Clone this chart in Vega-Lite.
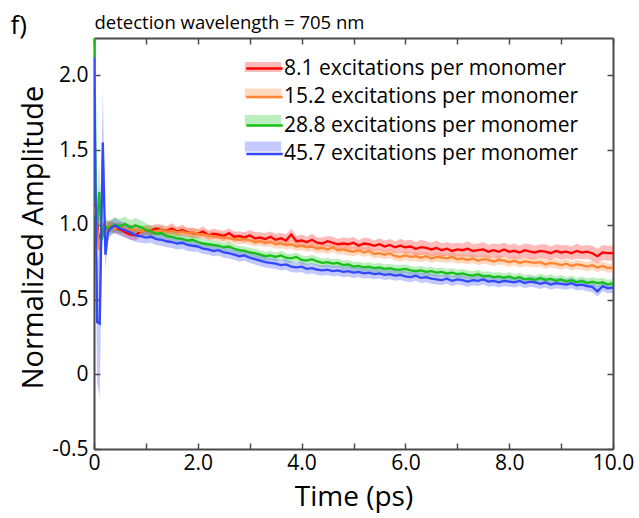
{
 "$schema": "https://vega.github.io/schema/vega-lite/v6.json",
 "width": 519,
 "height": 411,
 "autosize": {"type": "none"},
 "padding": {"left": 94, "top": 38, "right": 26, "bottom": 69},
 "background": "white",
 "config": {
  "view": {"stroke": null},
  "font": "Open Sans",
  "axis": {"domainColor": "#4a4a4a", "domainWidth": 2, "tickColor": "#4a4a4a", "tickWidth": 1.5, "tickSize": -6, "labelFont": "Open Sans", "labelFontSize": 21, "labelColor": "black", "labelFlush": false, "titleFont": "Open Sans", "titleFontSize": 28, "titleFontWeight": "normal", "titleColor": "black", "grid": false},
  "axisTop": {"titleFontSize": 18.5},
  "axisRight": {"titleFontSize": 26}
 },
 "data": {"values": [
  {"s":"a","t":0,"y":1.15,"e":0.05},{"s":"a","t":0.05,"y":1.1,"e":0.05},{"s":"a","t":0.1,"y":0.86,"e":0.06},{"s":"a","t":0.15,"y":0.97,"e":0.05},{"s":"a","t":0.2,"y":0.96,"e":0.04},{"s":"a","t":0.25,"y":0.98,"e":0.04},
  {"s":"a","t":0.3,"y":0.99,"e":0.035},{"s":"a","t":0.4,"y":0.98,"e":0.035},{"s":"a","t":0.5,"y":0.97,"e":0.035},{"s":"a","t":0.6,"y":0.95,"e":0.035},{"s":"a","t":0.7,"y":0.935,"e":0.035},{"s":"a","t":0.8,"y":0.93,"e":0.035},{"s":"a","t":0.9,"y":0.955,"e":0.035},
  {"s":"a","t":1.0,"y":0.965,"e":0.03},{"s":"a","t":1.1,"y":0.96,"e":0.035},{"s":"a","t":1.2,"y":0.975,"e":0.03},{"s":"a","t":1.3,"y":0.965,"e":0.035},{"s":"a","t":1.4,"y":0.96,"e":0.03},{"s":"a","t":1.5,"y":0.975,"e":0.035},{"s":"a","t":1.6,"y":0.955,"e":0.03},{"s":"a","t":1.7,"y":0.965,"e":0.035},{"s":"a","t":1.8,"y":0.95,"e":0.03},{"s":"a","t":1.9,"y":0.945,"e":0.035},
  {"s":"a","t":2.0,"y":0.94,"e":0.03},{"s":"a","t":2.1,"y":0.955,"e":0.035},{"s":"a","t":2.2,"y":0.93,"e":0.03},{"s":"a","t":2.3,"y":0.94,"e":0.035},{"s":"a","t":2.4,"y":0.935,"e":0.03},{"s":"a","t":2.5,"y":0.925,"e":0.035},{"s":"a","t":2.6,"y":0.945,"e":0.03},{"s":"a","t":2.7,"y":0.92,"e":0.035},{"s":"a","t":2.8,"y":0.925,"e":0.03},{"s":"a","t":2.9,"y":0.915,"e":0.035},
  {"s":"a","t":3.0,"y":0.93,"e":0.035},{"s":"a","t":3.1,"y":0.91,"e":0.04},{"s":"a","t":3.2,"y":0.915,"e":0.035},{"s":"a","t":3.3,"y":0.905,"e":0.04},{"s":"a","t":3.4,"y":0.92,"e":0.035},{"s":"a","t":3.5,"y":0.9,"e":0.04},{"s":"a","t":3.6,"y":0.91,"e":0.035},{"s":"a","t":3.7,"y":0.895,"e":0.04},{"s":"a","t":3.8,"y":0.935,"e":0.04},{"s":"a","t":3.9,"y":0.89,"e":0.035},
  {"s":"a","t":4.0,"y":0.895,"e":0.04},{"s":"a","t":4.1,"y":0.885,"e":0.035},{"s":"a","t":4.2,"y":0.9,"e":0.04},{"s":"a","t":4.3,"y":0.88,"e":0.035},{"s":"a","t":4.4,"y":0.875,"e":0.04},{"s":"a","t":4.5,"y":0.89,"e":0.035},{"s":"a","t":4.6,"y":0.88,"e":0.04},{"s":"a","t":4.7,"y":0.87,"e":0.035},{"s":"a","t":4.8,"y":0.875,"e":0.04},{"s":"a","t":4.9,"y":0.87,"e":0.04},
  {"s":"a","t":5.0,"y":0.88,"e":0.04},{"s":"a","t":5.1,"y":0.86,"e":0.035},{"s":"a","t":5.2,"y":0.875,"e":0.04},{"s":"a","t":5.3,"y":0.87,"e":0.04},{"s":"a","t":5.4,"y":0.86,"e":0.035},{"s":"a","t":5.5,"y":0.87,"e":0.04},{"s":"a","t":5.6,"y":0.855,"e":0.04},{"s":"a","t":5.7,"y":0.865,"e":0.04},{"s":"a","t":5.8,"y":0.85,"e":0.04},{"s":"a","t":5.9,"y":0.86,"e":0.045},
  {"s":"a","t":6.0,"y":0.85,"e":0.045},{"s":"a","t":6.1,"y":0.855,"e":0.045},{"s":"a","t":6.2,"y":0.84,"e":0.045},{"s":"a","t":6.3,"y":0.85,"e":0.05},{"s":"a","t":6.4,"y":0.845,"e":0.045},{"s":"a","t":6.5,"y":0.835,"e":0.045},{"s":"a","t":6.6,"y":0.845,"e":0.05},{"s":"a","t":6.7,"y":0.83,"e":0.045},{"s":"a","t":6.8,"y":0.84,"e":0.045},{"s":"a","t":6.9,"y":0.825,"e":0.05},
  {"s":"a","t":7.0,"y":0.835,"e":0.045},{"s":"a","t":7.1,"y":0.83,"e":0.045},{"s":"a","t":7.2,"y":0.84,"e":0.05},{"s":"a","t":7.3,"y":0.825,"e":0.045},{"s":"a","t":7.4,"y":0.83,"e":0.045},{"s":"a","t":7.5,"y":0.835,"e":0.05},{"s":"a","t":7.6,"y":0.82,"e":0.045},{"s":"a","t":7.7,"y":0.83,"e":0.045},{"s":"a","t":7.8,"y":0.82,"e":0.05},{"s":"a","t":7.9,"y":0.835,"e":0.045},
  {"s":"a","t":8.0,"y":0.82,"e":0.045},{"s":"a","t":8.1,"y":0.825,"e":0.05},{"s":"a","t":8.2,"y":0.815,"e":0.045},{"s":"a","t":8.3,"y":0.83,"e":0.045},{"s":"a","t":8.4,"y":0.82,"e":0.05},{"s":"a","t":8.5,"y":0.815,"e":0.045},{"s":"a","t":8.6,"y":0.825,"e":0.045},{"s":"a","t":8.7,"y":0.82,"e":0.05},{"s":"a","t":8.8,"y":0.81,"e":0.045},{"s":"a","t":8.9,"y":0.825,"e":0.045},
  {"s":"a","t":9.0,"y":0.815,"e":0.05},{"s":"a","t":9.1,"y":0.82,"e":0.045},{"s":"a","t":9.2,"y":0.81,"e":0.045},{"s":"a","t":9.3,"y":0.825,"e":0.05},{"s":"a","t":9.4,"y":0.815,"e":0.045},{"s":"a","t":9.5,"y":0.82,"e":0.045},{"s":"a","t":9.6,"y":0.81,"e":0.05},{"s":"a","t":9.7,"y":0.79,"e":0.05},{"s":"a","t":9.8,"y":0.815,"e":0.05},{"s":"a","t":9.9,"y":0.81,"e":0.05},{"s":"a","t":10.0,"y":0.81,"e":0.05},

  {"s":"b","t":0,"y":1.12,"e":0.05},{"s":"b","t":0.05,"y":1.04,"e":0.05},{"s":"b","t":0.1,"y":0.83,"e":0.05},{"s":"b","t":0.15,"y":0.95,"e":0.05},{"s":"b","t":0.2,"y":0.97,"e":0.04},{"s":"b","t":0.25,"y":0.99,"e":0.04},
  {"s":"b","t":0.3,"y":0.99,"e":0.035},{"s":"b","t":0.4,"y":0.975,"e":0.035},{"s":"b","t":0.5,"y":0.985,"e":0.035},{"s":"b","t":0.6,"y":0.97,"e":0.035},{"s":"b","t":0.7,"y":0.965,"e":0.035},{"s":"b","t":0.8,"y":0.97,"e":0.035},{"s":"b","t":0.9,"y":0.955,"e":0.035},
  {"s":"b","t":1.0,"y":0.965,"e":0.03},{"s":"b","t":1.1,"y":0.955,"e":0.03},{"s":"b","t":1.2,"y":0.96,"e":0.03},{"s":"b","t":1.3,"y":0.965,"e":0.03},{"s":"b","t":1.4,"y":0.955,"e":0.03},{"s":"b","t":1.5,"y":0.96,"e":0.03},{"s":"b","t":1.6,"y":0.95,"e":0.03},{"s":"b","t":1.7,"y":0.955,"e":0.03},{"s":"b","t":1.8,"y":0.945,"e":0.03},{"s":"b","t":1.9,"y":0.95,"e":0.03},
  {"s":"b","t":2.0,"y":0.94,"e":0.03},{"s":"b","t":2.1,"y":0.935,"e":0.03},{"s":"b","t":2.2,"y":0.93,"e":0.03},{"s":"b","t":2.3,"y":0.925,"e":0.03},{"s":"b","t":2.4,"y":0.92,"e":0.03},{"s":"b","t":2.5,"y":0.915,"e":0.03},{"s":"b","t":2.6,"y":0.91,"e":0.03},{"s":"b","t":2.7,"y":0.905,"e":0.03},{"s":"b","t":2.8,"y":0.9,"e":0.03},{"s":"b","t":2.9,"y":0.905,"e":0.03},
  {"s":"b","t":3.0,"y":0.895,"e":0.03},{"s":"b","t":3.1,"y":0.885,"e":0.03},{"s":"b","t":3.2,"y":0.89,"e":0.03},{"s":"b","t":3.3,"y":0.88,"e":0.03},{"s":"b","t":3.4,"y":0.885,"e":0.03},{"s":"b","t":3.5,"y":0.87,"e":0.03},{"s":"b","t":3.6,"y":0.875,"e":0.03},{"s":"b","t":3.7,"y":0.865,"e":0.03},{"s":"b","t":3.8,"y":0.87,"e":0.03},{"s":"b","t":3.9,"y":0.855,"e":0.03},
  {"s":"b","t":4.0,"y":0.86,"e":0.03},{"s":"b","t":4.1,"y":0.85,"e":0.03},{"s":"b","t":4.2,"y":0.855,"e":0.03},{"s":"b","t":4.3,"y":0.84,"e":0.03},{"s":"b","t":4.4,"y":0.845,"e":0.03},{"s":"b","t":4.5,"y":0.835,"e":0.03},{"s":"b","t":4.6,"y":0.85,"e":0.03},{"s":"b","t":4.7,"y":0.83,"e":0.03},{"s":"b","t":4.8,"y":0.835,"e":0.03},{"s":"b","t":4.9,"y":0.825,"e":0.03},
  {"s":"b","t":5.0,"y":0.82,"e":0.03},{"s":"b","t":5.1,"y":0.83,"e":0.03},{"s":"b","t":5.2,"y":0.815,"e":0.03},{"s":"b","t":5.3,"y":0.825,"e":0.03},{"s":"b","t":5.4,"y":0.805,"e":0.03},{"s":"b","t":5.5,"y":0.81,"e":0.03},{"s":"b","t":5.6,"y":0.8,"e":0.03},{"s":"b","t":5.7,"y":0.81,"e":0.03},{"s":"b","t":5.8,"y":0.79,"e":0.03},{"s":"b","t":5.9,"y":0.785,"e":0.03},
  {"s":"b","t":6.0,"y":0.795,"e":0.03},{"s":"b","t":6.1,"y":0.785,"e":0.03},{"s":"b","t":6.2,"y":0.79,"e":0.03},{"s":"b","t":6.3,"y":0.78,"e":0.03},{"s":"b","t":6.4,"y":0.79,"e":0.03},{"s":"b","t":6.5,"y":0.775,"e":0.03},{"s":"b","t":6.6,"y":0.785,"e":0.03},{"s":"b","t":6.7,"y":0.78,"e":0.03},{"s":"b","t":6.8,"y":0.775,"e":0.03},{"s":"b","t":6.9,"y":0.785,"e":0.03},
  {"s":"b","t":7.0,"y":0.77,"e":0.03},{"s":"b","t":7.1,"y":0.775,"e":0.03},{"s":"b","t":7.2,"y":0.765,"e":0.03},{"s":"b","t":7.3,"y":0.775,"e":0.03},{"s":"b","t":7.4,"y":0.76,"e":0.03},{"s":"b","t":7.5,"y":0.77,"e":0.03},{"s":"b","t":7.6,"y":0.765,"e":0.03},{"s":"b","t":7.7,"y":0.755,"e":0.03},{"s":"b","t":7.8,"y":0.765,"e":0.03},{"s":"b","t":7.9,"y":0.76,"e":0.03},
  {"s":"b","t":8.0,"y":0.75,"e":0.03},{"s":"b","t":8.1,"y":0.76,"e":0.03},{"s":"b","t":8.2,"y":0.745,"e":0.03},{"s":"b","t":8.3,"y":0.755,"e":0.03},{"s":"b","t":8.4,"y":0.75,"e":0.03},{"s":"b","t":8.5,"y":0.745,"e":0.03},{"s":"b","t":8.6,"y":0.75,"e":0.03},{"s":"b","t":8.7,"y":0.735,"e":0.03},{"s":"b","t":8.8,"y":0.745,"e":0.03},{"s":"b","t":8.9,"y":0.74,"e":0.03},
  {"s":"b","t":9.0,"y":0.73,"e":0.03},{"s":"b","t":9.1,"y":0.74,"e":0.03},{"s":"b","t":9.2,"y":0.725,"e":0.03},{"s":"b","t":9.3,"y":0.735,"e":0.03},{"s":"b","t":9.4,"y":0.73,"e":0.03},{"s":"b","t":9.5,"y":0.72,"e":0.03},{"s":"b","t":9.6,"y":0.73,"e":0.03},{"s":"b","t":9.7,"y":0.715,"e":0.03},{"s":"b","t":9.8,"y":0.725,"e":0.03},{"s":"b","t":9.9,"y":0.71,"e":0.03},{"s":"b","t":10.0,"y":0.715,"e":0.03},

  {"s":"c","t":0,"y":2.6,"e":0.2},{"s":"c","t":0.04,"y":0.88,"e":0.2},{"s":"c","t":0.1,"y":1.22,"e":0.2},{"s":"c","t":0.15,"y":0.9,"e":0.08},{"s":"c","t":0.2,"y":1.0,"e":0.06},{"s":"c","t":0.25,"y":0.98,"e":0.05},
  {"s":"c","t":0.3,"y":0.98,"e":0.05},{"s":"c","t":0.4,"y":1.0,"e":0.05},{"s":"c","t":0.5,"y":0.99,"e":0.05},{"s":"c","t":0.6,"y":1.005,"e":0.05},{"s":"c","t":0.7,"y":0.98,"e":0.05},{"s":"c","t":0.8,"y":0.995,"e":0.05},{"s":"c","t":0.9,"y":0.985,"e":0.045},
  {"s":"c","t":1.0,"y":0.965,"e":0.045},{"s":"c","t":1.1,"y":0.955,"e":0.04},{"s":"c","t":1.2,"y":0.94,"e":0.04},{"s":"c","t":1.3,"y":0.945,"e":0.04},{"s":"c","t":1.4,"y":0.925,"e":0.035},{"s":"c","t":1.5,"y":0.92,"e":0.035},{"s":"c","t":1.6,"y":0.91,"e":0.03},{"s":"c","t":1.7,"y":0.905,"e":0.03},{"s":"c","t":1.8,"y":0.895,"e":0.03},{"s":"c","t":1.9,"y":0.9,"e":0.03},
  {"s":"c","t":2.0,"y":0.885,"e":0.03},{"s":"c","t":2.1,"y":0.875,"e":0.03},{"s":"c","t":2.2,"y":0.87,"e":0.03},{"s":"c","t":2.3,"y":0.865,"e":0.03},{"s":"c","t":2.4,"y":0.86,"e":0.03},{"s":"c","t":2.5,"y":0.85,"e":0.03},{"s":"c","t":2.6,"y":0.855,"e":0.03},{"s":"c","t":2.7,"y":0.84,"e":0.03},{"s":"c","t":2.8,"y":0.83,"e":0.03},{"s":"c","t":2.9,"y":0.825,"e":0.03},
  {"s":"c","t":3.0,"y":0.815,"e":0.03},{"s":"c","t":3.1,"y":0.81,"e":0.03},{"s":"c","t":3.2,"y":0.8,"e":0.03},{"s":"c","t":3.3,"y":0.79,"e":0.03},{"s":"c","t":3.4,"y":0.795,"e":0.03},{"s":"c","t":3.5,"y":0.785,"e":0.03},{"s":"c","t":3.6,"y":0.795,"e":0.03},{"s":"c","t":3.7,"y":0.78,"e":0.03},{"s":"c","t":3.8,"y":0.775,"e":0.03},{"s":"c","t":3.9,"y":0.785,"e":0.03},
  {"s":"c","t":4.0,"y":0.765,"e":0.03},{"s":"c","t":4.1,"y":0.76,"e":0.03},{"s":"c","t":4.2,"y":0.77,"e":0.03},{"s":"c","t":4.3,"y":0.755,"e":0.03},{"s":"c","t":4.4,"y":0.745,"e":0.03},{"s":"c","t":4.5,"y":0.75,"e":0.03},{"s":"c","t":4.6,"y":0.74,"e":0.03},{"s":"c","t":4.7,"y":0.745,"e":0.03},{"s":"c","t":4.8,"y":0.73,"e":0.03},{"s":"c","t":4.9,"y":0.735,"e":0.03},
  {"s":"c","t":5.0,"y":0.72,"e":0.03},{"s":"c","t":5.1,"y":0.725,"e":0.03},{"s":"c","t":5.2,"y":0.715,"e":0.03},{"s":"c","t":5.3,"y":0.72,"e":0.03},{"s":"c","t":5.4,"y":0.71,"e":0.03},{"s":"c","t":5.5,"y":0.715,"e":0.03},{"s":"c","t":5.6,"y":0.705,"e":0.03},{"s":"c","t":5.7,"y":0.71,"e":0.03},{"s":"c","t":5.8,"y":0.7,"e":0.03},{"s":"c","t":5.9,"y":0.7,"e":0.03},
  {"s":"c","t":6.0,"y":0.705,"e":0.03},{"s":"c","t":6.1,"y":0.695,"e":0.03},{"s":"c","t":6.2,"y":0.69,"e":0.03},{"s":"c","t":6.3,"y":0.695,"e":0.03},{"s":"c","t":6.4,"y":0.685,"e":0.03},{"s":"c","t":6.5,"y":0.69,"e":0.03},{"s":"c","t":6.6,"y":0.68,"e":0.03},{"s":"c","t":6.7,"y":0.685,"e":0.03},{"s":"c","t":6.8,"y":0.675,"e":0.03},{"s":"c","t":6.9,"y":0.68,"e":0.03},
  {"s":"c","t":7.0,"y":0.67,"e":0.03},{"s":"c","t":7.1,"y":0.675,"e":0.03},{"s":"c","t":7.2,"y":0.665,"e":0.03},{"s":"c","t":7.3,"y":0.66,"e":0.03},{"s":"c","t":7.4,"y":0.67,"e":0.03},{"s":"c","t":7.5,"y":0.655,"e":0.03},{"s":"c","t":7.6,"y":0.66,"e":0.03},{"s":"c","t":7.7,"y":0.65,"e":0.03},{"s":"c","t":7.8,"y":0.655,"e":0.03},{"s":"c","t":7.9,"y":0.645,"e":0.03},
  {"s":"c","t":8.0,"y":0.655,"e":0.03},{"s":"c","t":8.1,"y":0.64,"e":0.03},{"s":"c","t":8.2,"y":0.65,"e":0.03},{"s":"c","t":8.3,"y":0.635,"e":0.03},{"s":"c","t":8.4,"y":0.64,"e":0.03},{"s":"c","t":8.5,"y":0.63,"e":0.03},{"s":"c","t":8.6,"y":0.645,"e":0.03},{"s":"c","t":8.7,"y":0.63,"e":0.03},{"s":"c","t":8.8,"y":0.64,"e":0.03},{"s":"c","t":8.9,"y":0.625,"e":0.03},
  {"s":"c","t":9.0,"y":0.635,"e":0.03},{"s":"c","t":9.1,"y":0.62,"e":0.03},{"s":"c","t":9.2,"y":0.63,"e":0.03},{"s":"c","t":9.3,"y":0.615,"e":0.03},{"s":"c","t":9.4,"y":0.625,"e":0.03},{"s":"c","t":9.5,"y":0.61,"e":0.03},{"s":"c","t":9.6,"y":0.62,"e":0.03},{"s":"c","t":9.7,"y":0.61,"e":0.03},{"s":"c","t":9.8,"y":0.615,"e":0.03},{"s":"c","t":9.9,"y":0.6,"e":0.03},{"s":"c","t":10.0,"y":0.61,"e":0.03},

  {"s":"d","t":0,"y":2.12,"e":0.15},{"s":"d","t":0.06,"y":0.35,"e":0.4},{"s":"d","t":0.11,"y":0.34,"e":0.5},{"s":"d","t":0.17,"y":1.55,"e":0.35},{"s":"d","t":0.22,"y":0.8,"e":0.1},{"s":"d","t":0.27,"y":0.95,"e":0.06},
  {"s":"d","t":0.3,"y":0.97,"e":0.05},{"s":"d","t":0.4,"y":0.995,"e":0.05},{"s":"d","t":0.5,"y":0.975,"e":0.05},{"s":"d","t":0.6,"y":0.965,"e":0.05},{"s":"d","t":0.7,"y":0.95,"e":0.05},{"s":"d","t":0.8,"y":0.93,"e":0.045},{"s":"d","t":0.9,"y":0.925,"e":0.045},
  {"s":"d","t":1.0,"y":0.915,"e":0.04},{"s":"d","t":1.1,"y":0.92,"e":0.04},{"s":"d","t":1.2,"y":0.905,"e":0.04},{"s":"d","t":1.3,"y":0.9,"e":0.04},{"s":"d","t":1.4,"y":0.89,"e":0.04},{"s":"d","t":1.5,"y":0.885,"e":0.04},{"s":"d","t":1.6,"y":0.875,"e":0.04},{"s":"d","t":1.7,"y":0.88,"e":0.04},{"s":"d","t":1.8,"y":0.865,"e":0.04},{"s":"d","t":1.9,"y":0.86,"e":0.04},
  {"s":"d","t":2.0,"y":0.855,"e":0.035},{"s":"d","t":2.1,"y":0.84,"e":0.035},{"s":"d","t":2.2,"y":0.835,"e":0.035},{"s":"d","t":2.3,"y":0.825,"e":0.035},{"s":"d","t":2.4,"y":0.83,"e":0.035},{"s":"d","t":2.5,"y":0.815,"e":0.035},{"s":"d","t":2.6,"y":0.81,"e":0.035},{"s":"d","t":2.7,"y":0.8,"e":0.035},{"s":"d","t":2.8,"y":0.79,"e":0.035},{"s":"d","t":2.9,"y":0.795,"e":0.035},
  {"s":"d","t":3.0,"y":0.78,"e":0.035},{"s":"d","t":3.1,"y":0.77,"e":0.035},{"s":"d","t":3.2,"y":0.76,"e":0.035},{"s":"d","t":3.3,"y":0.75,"e":0.035},{"s":"d","t":3.4,"y":0.745,"e":0.035},{"s":"d","t":3.5,"y":0.74,"e":0.035},{"s":"d","t":3.6,"y":0.73,"e":0.035},{"s":"d","t":3.7,"y":0.735,"e":0.035},{"s":"d","t":3.8,"y":0.72,"e":0.035},{"s":"d","t":3.9,"y":0.715,"e":0.035},
  {"s":"d","t":4.0,"y":0.72,"e":0.035},{"s":"d","t":4.1,"y":0.705,"e":0.035},{"s":"d","t":4.2,"y":0.71,"e":0.035},{"s":"d","t":4.3,"y":0.7,"e":0.035},{"s":"d","t":4.4,"y":0.695,"e":0.035},{"s":"d","t":4.5,"y":0.7,"e":0.035},{"s":"d","t":4.6,"y":0.69,"e":0.035},{"s":"d","t":4.7,"y":0.695,"e":0.035},{"s":"d","t":4.8,"y":0.685,"e":0.035},{"s":"d","t":4.9,"y":0.69,"e":0.035},
  {"s":"d","t":5.0,"y":0.68,"e":0.035},{"s":"d","t":5.1,"y":0.685,"e":0.035},{"s":"d","t":5.2,"y":0.675,"e":0.035},{"s":"d","t":5.3,"y":0.68,"e":0.035},{"s":"d","t":5.4,"y":0.67,"e":0.035},{"s":"d","t":5.5,"y":0.675,"e":0.035},{"s":"d","t":5.6,"y":0.665,"e":0.035},{"s":"d","t":5.7,"y":0.67,"e":0.035},{"s":"d","t":5.8,"y":0.66,"e":0.035},{"s":"d","t":5.9,"y":0.665,"e":0.035},
  {"s":"d","t":6.0,"y":0.655,"e":0.035},{"s":"d","t":6.1,"y":0.65,"e":0.035},{"s":"d","t":6.2,"y":0.66,"e":0.035},{"s":"d","t":6.3,"y":0.645,"e":0.035},{"s":"d","t":6.4,"y":0.65,"e":0.035},{"s":"d","t":6.5,"y":0.64,"e":0.035},{"s":"d","t":6.6,"y":0.635,"e":0.035},{"s":"d","t":6.7,"y":0.63,"e":0.035},{"s":"d","t":6.8,"y":0.64,"e":0.035},{"s":"d","t":6.9,"y":0.625,"e":0.035},
  {"s":"d","t":7.0,"y":0.635,"e":0.035},{"s":"d","t":7.1,"y":0.63,"e":0.035},{"s":"d","t":7.2,"y":0.62,"e":0.035},{"s":"d","t":7.3,"y":0.63,"e":0.035},{"s":"d","t":7.4,"y":0.625,"e":0.035},{"s":"d","t":7.5,"y":0.635,"e":0.035},{"s":"d","t":7.6,"y":0.62,"e":0.035},{"s":"d","t":7.7,"y":0.625,"e":0.035},{"s":"d","t":7.8,"y":0.615,"e":0.035},{"s":"d","t":7.9,"y":0.625,"e":0.035},
  {"s":"d","t":8.0,"y":0.62,"e":0.035},{"s":"d","t":8.1,"y":0.615,"e":0.035},{"s":"d","t":8.2,"y":0.625,"e":0.035},{"s":"d","t":8.3,"y":0.61,"e":0.035},{"s":"d","t":8.4,"y":0.62,"e":0.035},{"s":"d","t":8.5,"y":0.615,"e":0.035},{"s":"d","t":8.6,"y":0.605,"e":0.035},{"s":"d","t":8.7,"y":0.615,"e":0.035},{"s":"d","t":8.8,"y":0.6,"e":0.035},{"s":"d","t":8.9,"y":0.61,"e":0.035},
  {"s":"d","t":9.0,"y":0.605,"e":0.035},{"s":"d","t":9.1,"y":0.6,"e":0.035},{"s":"d","t":9.2,"y":0.61,"e":0.035},{"s":"d","t":9.3,"y":0.595,"e":0.035},{"s":"d","t":9.4,"y":0.6,"e":0.035},{"s":"d","t":9.5,"y":0.59,"e":0.035},{"s":"d","t":9.6,"y":0.585,"e":0.035},{"s":"d","t":9.7,"y":0.555,"e":0.035},{"s":"d","t":9.8,"y":0.59,"e":0.035},{"s":"d","t":9.9,"y":0.575,"e":0.035},{"s":"d","t":10.0,"y":0.58,"e":0.035}
 ]},
 "layer": [
  {
   "mark": {"type": "errorband", "clip": true, "opacity": 0.3},
   "encoding": {
    "x": {"field": "t", "type": "quantitative", "scale": {"domain": [0, 10], "nice": false, "zero": false},
     "axis": {"orient": "bottom", "values": [0,1,2,3,4,5,6,7,8,9,10], "labelExpr": "datum.value == 0 ? '0' : (datum.value % 2 == 0 ? format(datum.value, '.1f') : '')", "labelPadding": 9, "title": "Time (ps)", "titleFontSize": 28, "titleX": 259.5, "titleY": 56, "titleBaseline": "alphabetic", "titleAlign": "center"}},
    "y": {"field": "y", "type": "quantitative", "scale": {"domain": [-0.5, 2.25], "nice": false, "zero": false},
     "axis": {"orient": "left", "values": [-0.5,0,0.5,1,1.5,2], "labelExpr": "datum.value == 0 ? '0' : (datum.value < 0 ? '-' + format(-datum.value, '.1f') : format(datum.value, '.1f'))", "labelPadding": 12, "title": "Normalized Amplitude", "titleFontSize": 29, "titleX": -61, "titleY": 199, "titleBaseline": "middle", "titleAlign": "center", "titleAngle": -90}},
    "yError": {"field": "e"},
    "color": {"field": "s", "type": "nominal", "scale": {"range": ["#ff1a1a", "#ff8030", "#22c422", "#3a4cff"]},
     "legend": {"orient": "none", "legendX": 155, "legendY": 15, "title": null, "padding": 0, "symbolType": "M-1.3,-0.36H1.3V0.36H-1.3Z", "symbolSize": 784, "symbolOpacity": 0.3, "symbolStrokeWidth": 0, "labelFont": "Open Sans", "labelFontSize": 21, "labelOffset": 4, "labelLimit": 0, "rowPadding": 2.5, "labelExpr": "''"}}
   }
  },
  {
   "transform": [{"calculate": "datum.s", "as": "k"}],
   "mark": {"type": "line", "clip": true, "strokeWidth": 2.3},
   "encoding": {
    "x": {"field": "t", "type": "quantitative", "scale": {"domain": [0, 10], "nice": false, "zero": false},
     "axis": {"orient": "top", "values": [0,1,2,3,4,5,6,7,8,9,10], "labels": false, "title": "detection wavelength = 705 nm", "titleX": 0, "titleY": -10, "titleAlign": "left", "titleBaseline": "alphabetic", "titleAngle": 0}},
    "y": {"field": "y", "type": "quantitative", "scale": {"domain": [-0.5, 2.25], "nice": false, "zero": false},
     "axis": {"orient": "right", "values": [-0.5,0,0.5,1,1.5,2], "labels": false, "title": "f)", "titleX": -603, "titleY": -5, "titleAlign": "left", "titleBaseline": "alphabetic", "titleAngle": 0}},
    "stroke": {"field": "k", "type": "nominal", "scale": {"range": ["#ff0000", "#ff8533", "#17c017", "#3347ff"]},
     "legend": {"orient": "none", "legendX": 155, "legendY": 15, "title": null, "padding": 0, "symbolType": "M-1.3,0H1.3", "symbolSize": 784, "symbolStrokeWidth": 2.5, "labelFont": "Open Sans", "labelFontSize": 21, "labelOffset": 4, "labelLimit": 0, "labelColor": "black", "rowPadding": 2.5, "labelExpr": "{'a':'8.1','b':'15.2','c':'28.8','d':'45.7'}[datum.value] + ' excitations per monomer'"}}
   }
  }
 ],
 "resolve": {"axis": {"x": "independent", "y": "independent"}}
}
